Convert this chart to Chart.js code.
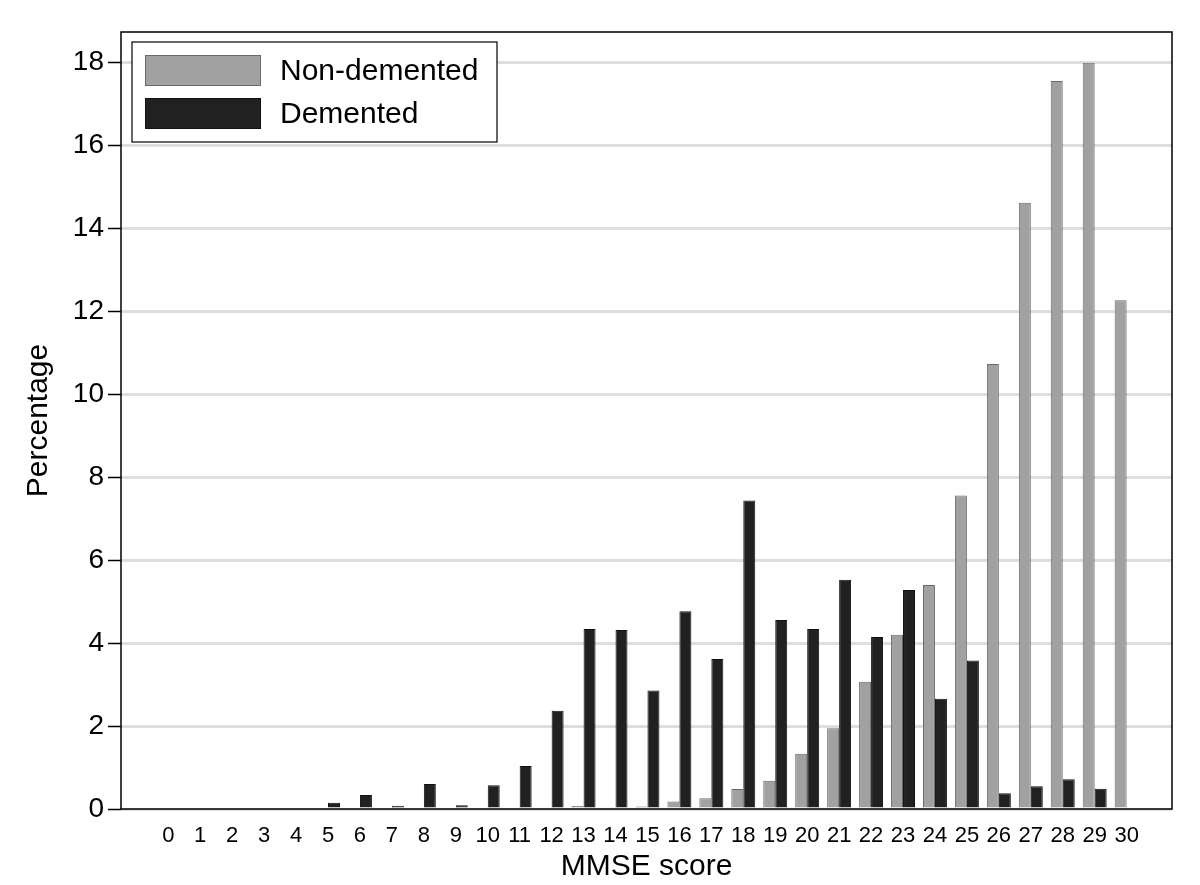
<!DOCTYPE html>
<html>
<head>
<meta charset="utf-8">
<script src="https://cdn.jsdelivr.net/npm/chart.js@4.4.1/dist/chart.umd.min.js"></script>
<style>
  html, body { margin: 0; padding: 0; background: #fff; }
</style>
</head>
<body>
<canvas id="myChart" width="1200" height="885"></canvas>
<script>
// MMSE score 0..30
var scores = [0, 1, 2, 3, 4, 5, 6, 7, 8, 9, 10, 11, 12, 13, 14, 15,
  16, 17, 18, 19, 20, 21, 22, 23, 24, 25, 26, 27, 28, 29, 30];

// percentage per score
var nonDemented = [0, 0, 0, 0, 0, 0, 0, 0, 0, 0, 0, 0, 0.03, 0.07, 0.03, 0.06,
  0.18, 0.26, 0.48, 0.68, 1.33, 1.95, 3.07, 4.2, 5.4, 7.56, 10.73, 14.62, 17.56, 18.0, 12.27];
var demented = [0, 0, 0, 0, 0, 0.15, 0.34, 0.08, 0.6, 0.09, 0.57, 1.04, 2.37, 4.34, 4.32, 2.86,
  4.77, 3.62, 7.44, 4.56, 4.34, 5.53, 4.15, 5.28, 2.66, 3.58, 0.38, 0.55, 0.72, 0.49, 0];

var yTicks = [0, 2, 4, 6, 8, 10, 12, 14, 16, 18];
var seriesNames = ['Non-demented', 'Demented'];

var fontFamily = '"Liberation Sans", Arial, Helvetica, sans-serif';

// frame round the plot + legend box in the top left corner
var framePlugin = {
  id: 'frame',
  afterDraw: function (chart) {
    var c = chart.ctx;
    var a = chart.chartArea;
    c.save();
    c.strokeStyle = '#000';
    c.lineWidth = 1.5;
    c.strokeRect(a.left, a.top, a.right - a.left, a.bottom - a.top);

    // legend
    var bx = a.left + 11, by = a.top + 10, bw = 365, bh = 100;
    c.fillStyle = '#fff';
    c.fillRect(bx, by, bw, bh);
    c.lineWidth = 1.2;
    c.strokeRect(bx, by, bw, bh);
    c.font = '30px ' + fontFamily;
    c.textBaseline = 'middle';
    chart.data.datasets.forEach(function (ds, i) {
      var sy = by + 13 + i * 43;
      c.fillStyle = ds.backgroundColor;
      c.fillRect(bx + 13, sy, 116, 31);
      c.strokeStyle = ds.borderColor;
      c.lineWidth = 1;
      c.strokeRect(bx + 13.5, sy + 0.5, 115, 30);
      c.fillStyle = '#000';
      c.fillText(ds.label, bx + 148, sy + 17);
    });
    c.restore();
  }
};

var ctx = document.getElementById('myChart');

var myBarChart = new Chart(ctx, {
  type: 'bar',
  data: {
    labels: scores,
    datasets: [{
      label: seriesNames[0],
      data: nonDemented,
      backgroundColor: '#a1a1a1',
      borderColor: '#6a6a6a',
      borderWidth: 1
    }, {
      label: seriesNames[1],
      data: demented,
      backgroundColor: '#212121',
      borderColor: '#111111',
      borderWidth: 1
    }]
  },
  options: {
    responsive: false,
    animation: false,
    devicePixelRatio: 1,
    barPercentage: 1.0,
    categoryPercentage: 0.75,
    layout: { padding: { top: 32, right: 28, left: 0, bottom: 0 } },
    plugins: {
      legend: { display: false },
      tooltip: { enabled: false }
    },
    scales: {
      x: {
        type: 'linear',
        offset: false,
        min: -1.48,
        max: 31.42,
        afterBuildTicks: function (scale) {
          scale.ticks = scores.map(function (v) { return { value: v }; });
        },
        afterFit: function (scale) { scale.height = 76; },
        grid: { display: false, drawTicks: false },
        border: { display: false },
        ticks: {
          autoSkip: false,
          maxRotation: 0,
          padding: 14,
          color: '#000',
          font: { family: fontFamily, size: 22 }
        },
        title: {
          display: true,
          text: 'MMSE score',
          color: '#000',
          font: { family: fontFamily, size: 30 },
          padding: { top: 0, bottom: 0 }
        }
      },
      y: {
        min: 0,
        max: 18.74,
        afterBuildTicks: function (scale) {
          scale.ticks = yTicks.map(function (v) { return { value: v }; });
        },
        afterFit: function (scale) { scale.width = 121; },
        grid: {
          color: '#dedede',
          lineWidth: 3,
          tickColor: '#000',
          tickWidth: 1.5,
          tickLength: 13
        },
        border: { display: false },
        ticks: {
          padding: 4,
          color: '#000',
          font: { family: fontFamily, size: 28 }
        },
        title: {
          display: true,
          text: 'Percentage',
          color: '#000',
          font: { family: fontFamily, size: 30 },
          padding: { top: 21, bottom: 0 }
        }
      }
    }
  },
  plugins: [framePlugin]
});
</script>
</body>
</html>
